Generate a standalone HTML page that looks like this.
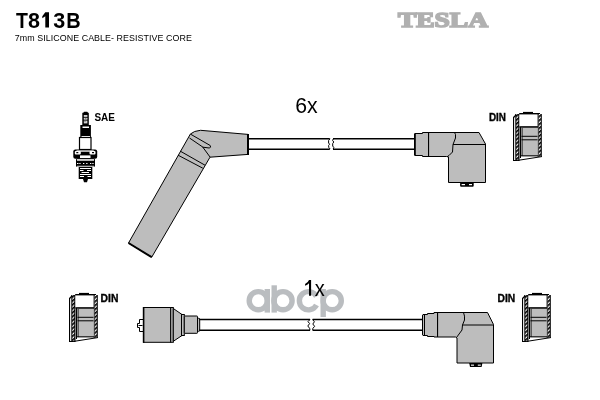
<!DOCTYPE html>
<html><head><meta charset="utf-8">
<style>
html,body{margin:0;padding:0;background:#fff;width:600px;height:400px;overflow:hidden}
svg{display:block;will-change:transform}
text{font-family:"Liberation Sans",sans-serif}
</style></head>
<body>
<svg width="600" height="400" viewBox="0 0 600 400">
<defs>
  <pattern id="hatch" x="0" y="0" width="3" height="3" patternUnits="userSpaceOnUse" patternTransform="rotate(-40)">
    <rect width="3" height="3" fill="#fff"/>
    <rect width="3" height="1.7" fill="#000"/>
  </pattern>
  <g id="din">
    <!-- absolute coords of top-right instance -->
    <!-- outer thin wall -->
    <rect x="513" y="117" width="3" height="44" fill="#fff"/>
    <rect x="513" y="117" width="1.1" height="44" fill="#000"/>
    <path d="M513.5,117.5 L516.5,114.5" stroke="#000" stroke-width="1.2"/>
    <!-- left hatched wall -->
    <rect x="516" y="114" width="3" height="47" fill="url(#hatch)"/>
    <rect x="515.3" y="114" width="1" height="47" fill="#000"/>
    <rect x="518.3" y="114" width="1.2" height="47" fill="#000"/>
    <!-- cavity -->
    <rect x="519.5" y="114.3" width="18.5" height="12" fill="#fff"/>
    <!-- top cap -->
    <rect x="523" y="111.9" width="10" height="1.3" fill="#000"/>
    <rect x="519.2" y="113" width="20.8" height="1.4" fill="#000"/>
    <!-- right hatched wall -->
    <rect x="538.5" y="114" width="2.5" height="43" fill="url(#hatch)"/>
    <rect x="537.6" y="114" width="1" height="43" fill="#000"/>
    <rect x="540.8" y="114" width="1" height="43" fill="#000"/>
    <!-- piston -->
    <rect x="521.5" y="126.5" width="16" height="30" fill="#bdbdbd"/>
    <rect x="519.5" y="126.2" width="18.5" height="1.5" fill="#000"/>
    <rect x="520" y="127" width="1" height="31" fill="#000"/>
    <rect x="521.6" y="128" width="0.9" height="28" fill="#000"/>
    <rect x="521.5" y="135.8" width="16" height="1" fill="#000"/>
    <rect x="521.5" y="139.3" width="16" height="1" fill="#000"/>
    <rect x="520.5" y="155.3" width="17.5" height="1" fill="#000"/>
    <path d="M513,160.5 L517,160.5 L541.8,156.6" fill="none" stroke="#000" stroke-width="1"/>
  </g>
  <g id="conn">
    <path d="M415,133.5 L422.5,133.5 L422.5,132.5 L479,132.5 L485.5,144 L485.5,182.5 L448.5,182.5 L448.5,157 L446.5,156.5 L422.5,156.5 L422.5,155.5 L415,155.5 Q414.5,155.5 414.5,153 L414.5,136 Q414.5,133.5 415,133.5 Z" fill="#bdbdbd" stroke="#000" stroke-width="1"/>
    <rect x="414" y="133.5" width="1.8" height="22" fill="#000"/>
    <rect x="428" y="132.5" width="1.1" height="24" fill="#000"/>
    <path d="M454.5,132.5 L455.5,134.5 L455.5,138 L453,144.5 L452.5,152 L449,155.5 L447,156.8" fill="none" stroke="#000" stroke-width="1"/>
    <path d="M453,144.5 L485.5,144.5" stroke="#000" stroke-width="1"/>
    <rect x="460.1" y="182.5" width="13.6" height="4.2" rx="1" fill="#000"/>
    <rect x="461.6" y="184" width="3.4" height="1.2" fill="#fff"/>
    <rect x="469" y="184" width="3" height="1.2" fill="#fff"/>
  </g>
</defs>

<!-- Header -->
<g font-size="21.5" font-weight="bold" fill="#000">
<text x="15.9" y="27.6" textLength="11.9" lengthAdjust="spacingAndGlyphs">T</text>
<text x="28" y="27.6">8</text>
<path d="M45.3,12.3 L49,12.3 L49,27.6 L45.3,27.6 L45.3,16.2 L42.3,18.2 L42.3,16.2 Z"/>
<text x="53.3" y="27.6">3</text>
<text x="66.2" y="27.6" textLength="14.4" lengthAdjust="spacingAndGlyphs">B</text>
</g>
<text x="14.8" y="40.8" font-size="8.9" fill="#000" letter-spacing="0.06">7mm SILICONE CABLE- RESISTIVE CORE</text>
<text x="398" y="27.4" font-size="21" font-weight="bold" fill="#b0b0b0" stroke="#b0b0b0" stroke-width="1.6" textLength="90" lengthAdjust="spacingAndGlyphs" style="font-family:'Liberation Serif',serif">TESLA</text>

<!-- Watermark abcp -->
<g fill="none" stroke="#babdc0" stroke-width="5.4">
  <circle cx="258.3" cy="300.7" r="9.1"/>
  <circle cx="283" cy="300.7" r="9.1"/>
  <path d="M316.5,296.5 A9.1,9.1 0 1 0 316.5,305"/>
  <circle cx="332.2" cy="300.7" r="9.1"/>
</g>
<g fill="#babdc0">
  <rect x="264.6" y="289" width="5.4" height="23.6"/>
  <rect x="271.5" y="285.3" width="5.4" height="27.3"/>
  <rect x="320.5" y="289" width="5.4" height="28"/>
</g>

<!-- 6x / 1x -->
<text x="295.3" y="113.2" font-size="22.2" fill="#000" textLength="22.4" lengthAdjust="spacingAndGlyphs">6x</text>
<path d="M309,279.9 L311.1,279.9 L311.1,295.8 L309,295.8 L309,283.2 Q307.5,284.8 305.1,285.8 L305.1,283.9 Q308,282.5 309,279.9 Z" fill="#000"/>
<text x="314.8" y="295.8" font-size="21.5" fill="#000" textLength="10" lengthAdjust="spacingAndGlyphs">x</text>

<!-- SAE plug -->
<text x="94.4" y="120.7" font-size="10.5" font-weight="bold" fill="#000" textLength="20.5" lengthAdjust="spacingAndGlyphs">SAE</text>
<g>
  <rect x="82.3" y="112.8" width="6.5" height="13" fill="#000"/>
  <rect x="83.5" y="111.8" width="4.3" height="2" rx="0.8" fill="#000"/>
  <rect x="83.8" y="115" width="3.6" height="1.9" fill="#d0d0d0"/>
  <rect x="83.8" y="117.8" width="3.6" height="1.8" fill="#fff"/>
  <rect x="84.6" y="118.4" width="2" height="0.8" fill="#444"/>
  <rect x="83.8" y="120.6" width="3.6" height="2.8" fill="#d0d0d0"/>
  <rect x="84.5" y="121" width="1" height="0.8" fill="#555"/>
  <rect x="80.3" y="125" width="10.6" height="12" fill="#000"/>
  <rect x="82.5" y="126.5" width="6.5" height="1.5" fill="#fff"/>
  <rect x="81.5" y="136" width="8.5" height="1.2" fill="#fff"/>
  <rect x="79.5" y="137.5" width="11.5" height="12" fill="#fff" stroke="#000" stroke-width="1.2"/>
  <rect x="73.3" y="149.4" width="23.9" height="9.4" rx="2" fill="#000"/>
  <rect x="76.5" y="150.4" width="17.2" height="1.3" fill="#fff"/>
  <rect x="74.8" y="151" width="6" height="3.4" rx="1" fill="#fff"/>
  <rect x="89.5" y="151" width="6" height="3.4" rx="1" fill="#fff"/>
  <rect x="76.3" y="152" width="2" height="1.2" fill="#000"/>
  <rect x="92" y="152" width="2" height="1.2" fill="#000"/>
  <rect x="80" y="155.4" width="10.5" height="2.6" fill="#fff"/>
  <rect x="76" y="158.3" width="19" height="8.7" rx="1.5" fill="#000"/>
  <rect x="77" y="159.2" width="17" height="1.5" fill="#fff"/>
  <path d="M77,163.5h1.5M79.3,163.5h1.3M83,163.5h1.3M86.2,163.5h1.3M90,163.5h1.3M92.3,163.5h1.3" stroke="#fff" stroke-width="1.2"/>
  <rect x="77" y="165.8" width="17" height="0.9" fill="#fff"/>
  <rect x="78.7" y="167" width="13.6" height="12" fill="#000"/>
  <path d="M80,168.5h11M80,170.5h3.5M87,170.5h4M81.5,172.5h7.5M80,174.5h11M80,176.5h4M87.5,176.5h3.5" stroke="#fff" stroke-width="1"/>
  <path d="M83,179 L88,179 L87,182.3 L84,182.3 Z" fill="#000"/>
</g>

<!-- Top boot -->
<path d="M128.5,243 L190.4,134 Q194,130.8 200.5,130.3 L248,134.4 L248,154.4 L210,157.2 L151.7,257.2 Z" fill="#bdbdbd" stroke="#000" stroke-width="1"/>
<path d="M128.5,243 L151.7,257.2" stroke="#000" stroke-width="2"/>
<rect x="247" y="134" width="2" height="21" fill="#000"/>
<path d="M190.6,134.2 L210.2,145.5 Q211.5,147.6 209.2,148 L203,147.2 L189.5,138" fill="none" stroke="#000" stroke-width="1"/>
<path d="M202.7,147 L210,157" fill="none" stroke="#000" stroke-width="1"/>
<path d="M180.2,151.1 L205,165.2 M178,155.15 L202.8,168.2" stroke="#000" stroke-width="1"/>

<!-- top cable -->
<path d="M249,138.75 L329.8,138.75 M249,149.25 L329.8,149.25 M333,138.75 L414,138.75 M333,149.25 L414,149.25" stroke="#000" stroke-width="1.5"/>
<path d="M330,138.8 L328.6,140.5 L328.6,143 L329.6,144.2 L328.6,145.5 L328.8,147.5 L330.2,149" fill="none" stroke="#000" stroke-width="1"/>
<path d="M333.3,138.8 L332.6,140.5 L333.8,142 L332.7,143.5 L332.7,146 L333.8,147.5 L333.2,149" fill="none" stroke="#000" stroke-width="1"/>

<!-- top connector -->
<use href="#conn"/>

<!-- DIN icons -->
<text x="489" y="120.8" font-size="10.5" font-weight="bold" fill="#000" stroke="#000" stroke-width="0.35" textLength="17" lengthAdjust="spacingAndGlyphs">DIN</text>
<use href="#din"/>
<text x="100.6" y="301.8" font-size="10.5" font-weight="bold" fill="#000" stroke="#000" stroke-width="0.35" textLength="17.8" lengthAdjust="spacingAndGlyphs">DIN</text>
<use href="#din" x="-444" y="181"/>
<text x="497.5" y="301.6" font-size="10.5" font-weight="bold" fill="#000" stroke="#000" stroke-width="0.35" textLength="17.7" lengthAdjust="spacingAndGlyphs">DIN</text>
<use href="#din" x="9" y="181"/>

<!-- bottom plug boot -->
<path d="M143.5,319.5 L139.5,319.5 L139.5,323.5 L137.5,323.5 L137.5,327.5 L139.5,327.5 L139.5,331.5 L143.5,331.5" fill="#fff" stroke="#000" stroke-width="1"/>
<path d="M138.5,325.5 L142.5,325.5" stroke="#000" stroke-width="1"/>
<g fill="#bdbdbd" stroke="#000" stroke-width="1">
  <rect x="143.5" y="307.5" width="27.2" height="34.8"/>
  <rect x="170.7" y="307.5" width="2.6" height="34.8"/>
  <path d="M173.3,308.5 L182,314.5 L182,335.5 L173.3,341.3 Z"/>
  <rect x="181.5" y="314.5" width="2.8" height="21"/>
  <rect x="197.5" y="318.3" width="2.2" height="13" rx="0.8"/>
  <rect x="184.3" y="316" width="13.2" height="17.3" rx="0.6"/>
</g>
<rect x="142.8" y="307" width="1.6" height="35.8" fill="#000"/>

<!-- bottom cable -->
<path d="M199.3,319.5 L310,319.5 M199.3,330.25 L310,330.25 M312.6,319.5 L422,319.5 M312.6,330.25 L422,330.25" stroke="#000" stroke-width="1.5"/>
<path d="M310,319.5 L308,321.6 L309.6,323.6 L307.8,326 L309.6,328.3 L310,330.2" fill="none" stroke="#000" stroke-width="1"/>
<path d="M312.6,319.5 L314.4,321.8 L312.8,324 L314.6,326.3 L312.8,328.5 L312.8,330.2" fill="none" stroke="#000" stroke-width="1"/>

<!-- bottom connector -->
<path d="M423,314.5 L427.5,314.5 L427.5,313.5 L434,313.5 L434,312.5 L487.5,312.5 L493.5,324.5 L493.5,363 L457,363 L457,338 L455.5,337 L434,337 L434,336.5 L427.5,336.5 L427.5,335.5 L423,335.5 Q422.5,335.5 422.5,334 L422.5,316 Q422.5,314.5 423,314.5 Z" fill="#bdbdbd" stroke="#000" stroke-width="1"/>
<rect x="424" y="315" width="1" height="20.5" fill="#000"/>
<rect x="437" y="312.5" width="1.1" height="24.5" fill="#000"/>
<path d="M463.5,312.5 Q465,316 464.5,320 L462.5,325 L462,330 L456.5,337.5" fill="none" stroke="#000" stroke-width="1"/>
<path d="M462.5,325 L493.5,325" stroke="#000" stroke-width="1"/>
<path d="M469.2,363 L482.4,363 L481.6,367 L470,367 Z" fill="#000"/>
<rect x="471" y="364.6" width="3" height="1.1" fill="#fff"/>
<rect x="477.8" y="364.6" width="3" height="1.1" fill="#fff"/>

</svg>
</body></html>
